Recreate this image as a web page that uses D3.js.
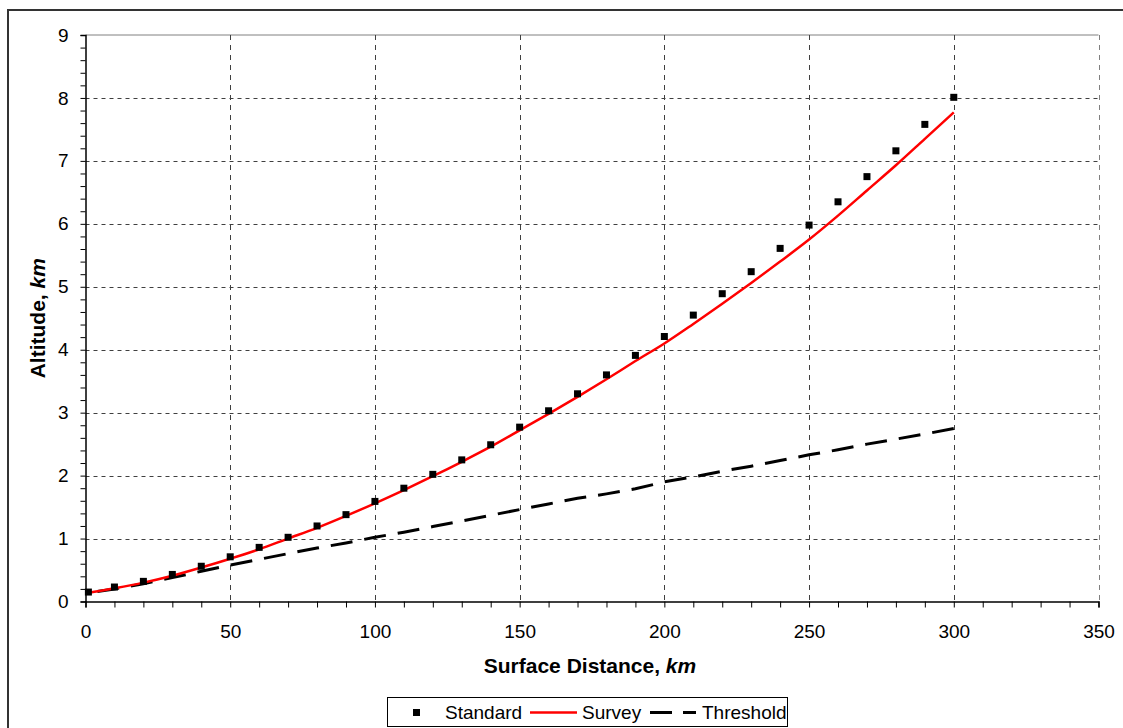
<!DOCTYPE html>
<html>
<head>
<meta charset="utf-8">
<script src="https://cdn.jsdelivr.net/npm/d3@7"></script>
<style>
  body { margin: 0; background: #fff; }
  text { font-family: "Liberation Sans", Arial, sans-serif; fill: #000; }
</style>
</head>
<body>
<div id="chart"></div>
<script>
'use strict';

// distances (km)
var distances = d3.range(0, 301, 10);
var standardX = [1].concat(d3.range(10, 301, 10));

// series values, altitude in km
var standard = [0.15, 0.23, 0.32, 0.43, 0.56, 0.71, 0.86, 1.02, 1.20, 1.38, 1.59,
  1.80, 2.02, 2.25, 2.49, 2.77, 3.03, 3.30, 3.60, 3.91, 4.21, 4.55, 4.89, 5.24,
  5.61, 5.98, 6.35, 6.75, 7.16, 7.58, 8.01];
var survey = [0.13, 0.21, 0.30, 0.41, 0.54, 0.68, 0.83, 1.00, 1.17, 1.36, 1.56,
  1.77, 1.99, 2.22, 2.46, 2.72, 2.98, 3.25, 3.53, 3.82, 4.10, 4.41, 4.73, 5.06,
  5.40, 5.75, 6.13, 6.53, 6.93, 7.35, 7.77];
var threshold = [0.13, 0.20, 0.28, 0.38, 0.48, 0.58, 0.67, 0.76, 0.85, 0.93, 1.02,
  1.10, 1.19, 1.28, 1.37, 1.46, 1.55, 1.64, 1.71, 1.79, 1.90, 1.98, 2.07, 2.15,
  2.24, 2.33, 2.41, 2.50, 2.58, 2.66, 2.75];

var xTicks = [0, 50, 100, 150, 200, 250, 300, 350];
var yTicks = [0, 1, 2, 3, 4, 5, 6, 7, 8, 9];
var legendNames = ['Standard', 'Survey', 'Threshold'];

var width = 1123, height = 728;
var margin = {left: 85.5, top: 35, right: 1098.5, bottom: 601.5};

var svg = d3.select('#chart').append('svg')
  .attr('width', width)
  .attr('height', height);

// outer chart frame
svg.append('path')
  .attr('d', 'M8,' + height + 'V10H' + width)
  .attr('fill', 'none')
  .attr('stroke', '#333')
  .attr('stroke-width', 2);

var x = d3.scaleLinear().domain([0, 350]).range([margin.left, margin.right]);
var y = d3.scaleLinear().domain([0, 9]).range([margin.bottom, margin.top]);

// plot border top
svg.append('line')
  .attr('x1', margin.left).attr('x2', margin.right)
  .attr('y1', margin.top).attr('y2', margin.top)
  .attr('stroke', '#808080').attr('stroke-width', 1);

// grid lines
svg.append('g').selectAll('line').data(yTicks.slice(1, -1))
  .enter().append('line')
  .attr('x1', margin.left).attr('x2', margin.right)
  .attr('y1', function(d){ return Math.round(y(d)) + 0.5; })
  .attr('y2', function(d){ return Math.round(y(d)) + 0.5; })
  .attr('stroke', '#404040')
  .attr('stroke-dasharray', '4,4');

svg.append('g').selectAll('line').data(xTicks.slice(1))
  .enter().append('line')
  .attr('x1', function(d){ return Math.round(x(d)) + 0.5; })
  .attr('x2', function(d){ return Math.round(x(d)) + 0.5; })
  .attr('y1', margin.top).attr('y2', margin.bottom)
  .attr('stroke', function(d){ return d === 350 ? '#808080' : '#404040'; })
  .attr('stroke-dasharray', '5,5');

// axes
var xAxis = d3.axisBottom(x)
  .tickValues(d3.range(0, 351, 10))
  .tickSize(6)
  .tickFormat(function(d){ return xTicks.indexOf(d) >= 0 ? d : ''; });
var gx = svg.append('g')
  .attr('transform', 'translate(0,' + margin.bottom + ')')
  .call(xAxis);
gx.select('.domain').attr('stroke', '#000').attr('stroke-width', 1.5);
gx.selectAll('line').attr('stroke', '#000');
gx.selectAll('text')
  .attr('y', 23)
  .style('font-size', '19px')
  .style('font-family', '"Liberation Sans", Arial, sans-serif');

var yAxis = d3.axisLeft(y)
  .tickValues(d3.range(0, 9.01, 0.2).map(function(d){ return Math.round(d * 10) / 10; }))
  .tickSize(5)
  .tickFormat(function(d){ return Number.isInteger(d) ? d : ''; });
var gy = svg.append('g')
  .attr('transform', 'translate(' + margin.left + ',0)')
  .call(yAxis);
gy.select('.domain').attr('stroke', '#000').attr('stroke-width', 1.5);
gy.selectAll('line').attr('stroke', '#000');
gy.selectAll('text')
  .attr('x', -17)
  .style('font-size', '19px')
  .style('font-family', '"Liberation Sans", Arial, sans-serif');

// axis titles
var xTitle = svg.append('text')
  .attr('x', 590)
  .attr('y', 673)
  .attr('text-anchor', 'middle')
  .style('font-size', '21px')
  .style('font-weight', 'bold');
xTitle.append('tspan').text('Surface Distance, ');
xTitle.append('tspan').style('font-style', 'italic').text('km');

var yTitle = svg.append('text')
  .attr('transform', 'translate(45,' + ((margin.top + margin.bottom) / 2) + ') rotate(-90)')
  .attr('text-anchor', 'middle')
  .style('font-size', '21px')
  .style('font-weight', 'bold');
yTitle.append('tspan').text('Altitude, ');
yTitle.append('tspan').style('font-style', 'italic').text('km');

// threshold line
var line = d3.line()
  .x(function(d){ return x(d[0]); })
  .y(function(d){ return y(d[1]); });

var thresholdPath = svg.append('path')
  .datum(distances.map(function(d, i){ return [d, threshold[i]]; }))
  .attr('d', line)
  .attr('fill', 'none')
  .attr('stroke', '#000')
  .attr('stroke-width', 3)
  .attr('stroke-dasharray', '22,12');
// shift the dash pattern so the line ends on a dash
var len = thresholdPath.node().getTotalLength();
thresholdPath.attr('stroke-dashoffset', ((22 - len) % 34 + 34) % 34);

// survey line
svg.append('path')
  .datum(distances.map(function(d, i){ return [d, survey[i]]; }))
  .attr('d', line.curve(d3.curveMonotoneX))
  .attr('fill', 'none')
  .attr('stroke', '#ff0000')
  .attr('stroke-width', 2.5);

// standard points
svg.append('g').selectAll('rect')
  .data(standardX.map(function(d, i){ return [d, standard[i]]; }))
  .enter().append('rect')
  .attr('x', function(d){ return x(d[0]) - 3.5; })
  .attr('y', function(d){ return y(d[1]) - 3.5; })
  .attr('width', 7)
  .attr('height', 7)
  .attr('fill', '#000');

// legend
var legend = svg.append('g');
legend.append('rect')
  .attr('x', 387.5).attr('y', 697.5)
  .attr('width', 400).attr('height', 29)
  .attr('fill', '#fff')
  .attr('stroke', '#000');
legend.append('rect')
  .attr('x', 413).attr('y', 709)
  .attr('width', 7).attr('height', 7)
  .attr('fill', '#000');
legend.append('line')
  .attr('x1', 530).attr('x2', 577).attr('y1', 712.5).attr('y2', 712.5)
  .attr('stroke', '#ff0000').attr('stroke-width', 2.5);
legend.append('line')
  .attr('x1', 650).attr('x2', 696).attr('y1', 712.5).attr('y2', 712.5)
  .attr('stroke', '#000').attr('stroke-width', 3)
  .attr('stroke-dasharray', '22,11');
legend.selectAll('text.name').data(legendNames)
  .enter().append('text')
  .attr('class', 'name')
  .attr('x', function(d, i){ return [445, 582, 702][i]; })
  .attr('y', 719)
  .style('font-size', '19px')
  .text(function(d){ return d; });
</script>
</body>
</html>
